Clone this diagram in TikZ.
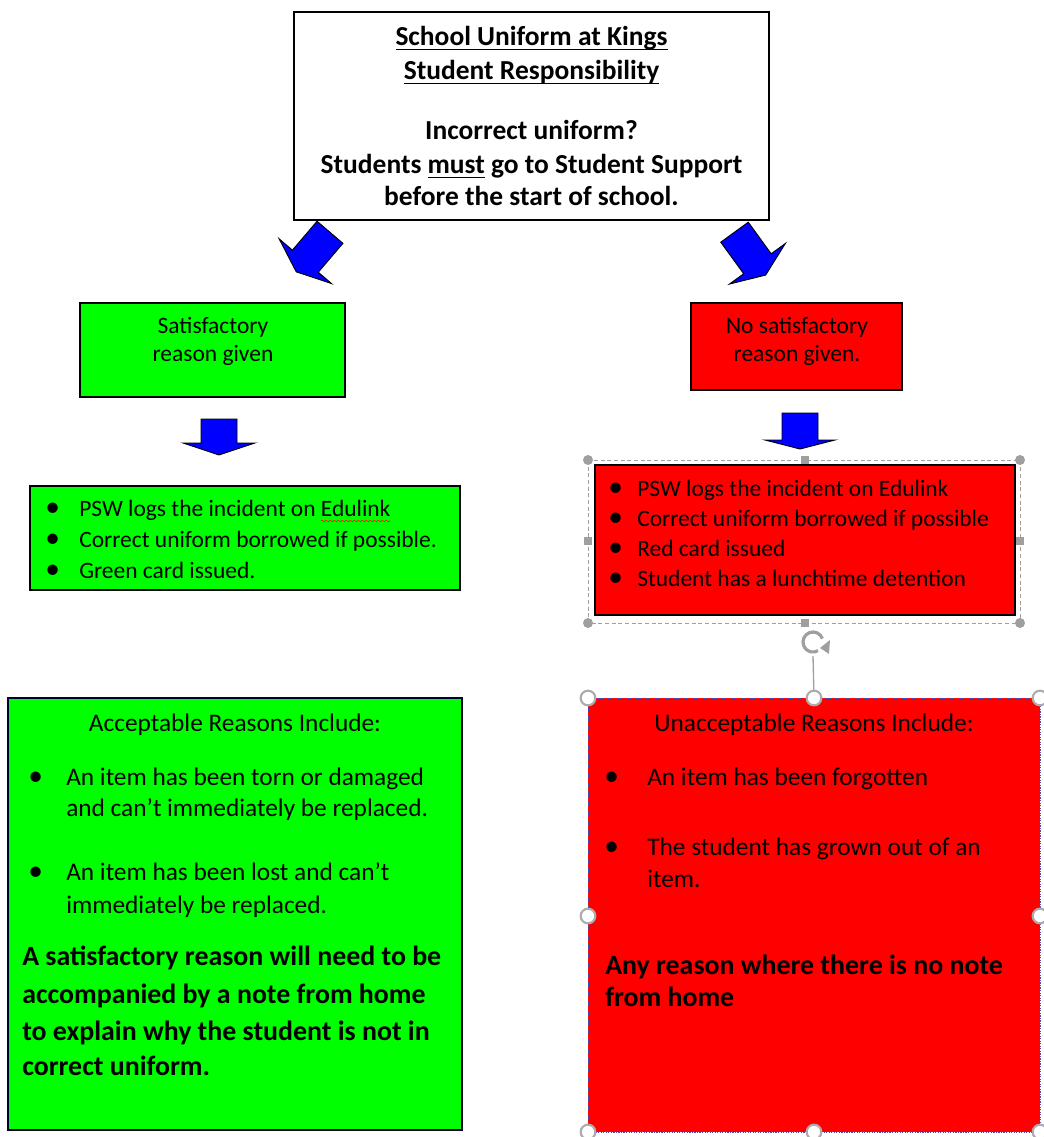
\documentclass[tikz,border=0pt]{standalone}
\usepackage{fontspec}
\setmainfont{Carlito}
\usetikzlibrary{positioning,decorations.pathmorphing}

\newcommand{\underText}[1]{\setbox0\hbox{#1}\rlap{\rule[-2.8pt]{\wd0}{0.9pt}}\box0\relax}

\begin{document}
\begin{tikzpicture}[x=0.75pt, y=-0.75pt, font=\fontsize{17.6}{21}\selectfont]

		\useasboundingbox (0,0) rectangle (1043,1137);

		\tikzstyle{box} = [draw=black, line width=0.9pt, rectangle, inner sep=0pt]
		\tikzstyle{boxSize} = [minimum width=#1*0.75pt]
		\tikzstyle{boxHeight} = [minimum height=#1*0.75pt]
		\tikzstyle{greenBox} = [box, fill=green]
		\tikzstyle{redBox} = [box, fill=red]
		\tikzstyle{blockArrow} = [fill=blue, draw=black, line width=0.7pt, line join=miter]
		\tikzstyle{textLine} = [anchor=base west, inner sep=0pt]
		\tikzstyle{midLine} = [anchor=base, inner sep=0pt]
		\tikzstyle{dotMark} = [anchor=base west, inner sep=0pt, font=\fontsize{22}{22}\selectfont]
		\tikzstyle{handleGrey} = [gray!75]
		\tikzstyle{smallHandle} = [handleGrey, fill=gray!75, circle, inner sep=0pt, minimum size=7.5pt]
		\tikzstyle{squareHandle} = [handleGrey, fill=gray!75, rectangle, inner sep=0pt, minimum size=6.5pt]
		\tikzstyle{openHandle} = [draw=gray!65, fill=white, circle, line width=1.6pt, inner sep=0pt, minimum size=11pt]

		% Boxes
		\node[box, fill=white, boxSize=475, boxHeight=208] (header) at (531.5,116) {};
		\node[greenBox, boxSize=265, boxHeight=94] (satisfied) at (212.5,350) {};
		\node[redBox, boxSize=211, boxHeight=87] (unsatisfied) at (796.5,346.5) {};
		\node[greenBox, boxSize=430, boxHeight=104] (greenActions) at (245,538) {};
		\node[redBox, boxSize=420, boxHeight=150] (redActions) at (805,540) {};
		\node[greenBox, draw=black!80!blue, boxSize=454, boxHeight=432] (acceptable) at (235,914) {};
		\node[redBox, draw=blue!40!gray, densely dotted, line width=0.6pt, boxSize=452, boxHeight=434] (unacceptable) at (814,915) {};

		% Header text
		\begin{scope}[font=\fontsize{20.6}{24}\selectfont\bfseries]
			\node[midLine] (title1) at (531.5,46) {\underText{School Uniform at Kings}};
			\node[midLine] (title2) at (531.5,80) {\underText{Student Responsibility}};
			\node[midLine] (ask) at (531.5,140) {Incorrect uniform?};
			\node[midLine] (must) at (531.5,174) {Students \underText{must} go to Student Support};
			\node[midLine] (before) at (531.5,206) {before the start of school.};
		\end{scope}

		% Block arrows
		\begin{scope}[shift={(330,232.3)}, rotate=-40.5]
			\draw[blockArrow] (-17,0) -- (17,0) -- (17,38) -- (34.5,38) -- (0,52) -- (-34.5,38) -- (-17,38) -- cycle;
		\end{scope}
		\begin{scope}[shift={(734.5,232.2)}, rotate=36]
			\draw[blockArrow] (-17,0) -- (17,0) -- (17,39) -- (34.5,39) -- (0,53) -- (-34.5,39) -- (-17,39) -- cycle;
		\end{scope}
		\draw[blockArrow] (201,419) -- (237,419) -- (237,443) -- (255,443) -- (219,455) -- (183,443) -- (201,443) -- cycle;
		\draw[blockArrow] (782,413) -- (818,413) -- (818,440) -- (835,440) -- (800,449) -- (765,440) -- (782,440) -- cycle;

		% Reason boxes
		\node[midLine] (sat1) at (213,333) {Satisfactory};
		\node[midLine] (sat2) at (213,361) {reason given};
		\node[midLine] (unsat1) at (797,333) {No satisfactory};
		\node[midLine] (unsat2) at (797,361) {reason given.};

		% Action lists
		\foreach \txt [count=\i] in {PSW logs the incident on Edulink, Correct uniform borrowed if possible., Green card issued.} {
			\node[dotMark] (greenDot\i) at (45,{516+31*(\i-1)}) {\textbullet};
			\node[textLine] (greenItem\i) at (79,{516+31*(\i-1)}) {\txt};
		}
		\draw[red, decorate, decoration={snake, amplitude=0.5pt, segment length=3pt}] (321,521) -- (390,521);

		\foreach \txt [count=\i] in {PSW logs the incident on Edulink, Correct uniform borrowed if possible, Red card issued, Student has a lunchtime detention} {
			\node[dotMark] (redDot\i) at (608,{496+30*(\i-1)}) {\textbullet};
			\node[textLine] (redItem\i) at (637,{496+30*(\i-1)}) {\txt};
		}

		% Selection of the red action box
		\draw[handleGrey, densely dashed, line width=0.6pt] (588,460) rectangle (1020,623);
		\foreach \cx/\cy in {588/460, 1020/460, 588/623, 1020/623}
			\node[smallHandle] at (\cx,\cy) {};
		\foreach \cx/\cy in {805/460, 805/623, 588/541, 1020/541}
			\node[squareHandle] at (\cx,\cy) {};
		\draw[handleGrey, line width=2.4pt] (813,642) ++(-20:10) arc[start angle=-20, end angle=-300, radius=10];
		\fill[handleGrey] (820,648) -- (830,640) -- (829,654) -- cycle;
		\draw[handleGrey, line width=1pt] (813,656) -- (unacceptable.north);

		% Acceptable reasons
		\begin{scope}[font=\fontsize{19}{23}\selectfont]
			\node[midLine] (accTitle) at (235,731) {Acceptable Reasons Include:};
			\node[dotMark] (accDot1) at (28,785) {\textbullet};
			\node[textLine] (acc1a) at (66,785) {An item has been torn or damaged};
			\node[textLine] (acc1b) at (66,816) {and can’t immediately be replaced.};
			\node[dotMark] (accDot2) at (28,880) {\textbullet};
			\node[textLine] (acc2a) at (66,880) {An item has been lost and can’t};
			\node[textLine] (acc2b) at (66,913) {immediately be replaced.};

			\node[midLine] (unaccTitle) at (814,731) {Unacceptable Reasons Include:};
			\node[dotMark] (unaccDot1) at (604,785) {\textbullet};
			\node[textLine] (unacc1) at (647,785) {An item has been forgotten};
			\node[dotMark] (unaccDot2) at (604,855) {\textbullet};
			\node[textLine] (unacc2a) at (647,855) {The student has grown out of an};
			\node[textLine] (unacc2b) at (647,887) {item.};
		\end{scope}
		\begin{scope}[font=\fontsize{20.9}{24}\selectfont\bfseries]
			\node[textLine] (note1) at (22,965) {A satisfactory reason will need to be};
			\node[textLine] (note2) at (22,1003) {accompanied by a note from home};
			\node[textLine] (note3) at (22,1040) {to explain why the student is not in};
			\node[textLine] (note4) at (22,1075) {correct uniform.};
			\node[textLine] (noNote1) at (605,974) {Any reason where there is no note};
			\node[textLine] (noNote2) at (605,1006) {from home};
		\end{scope}

		% Selection of the unacceptable box
		\foreach \cx/\cy in {588/698, 814/698, 1040/698, 588/916, 1040/916, 588/1132, 814/1132, 1040/1132}
			\node[openHandle] at (\cx,\cy) {};

\end{tikzpicture}
\end{document}
